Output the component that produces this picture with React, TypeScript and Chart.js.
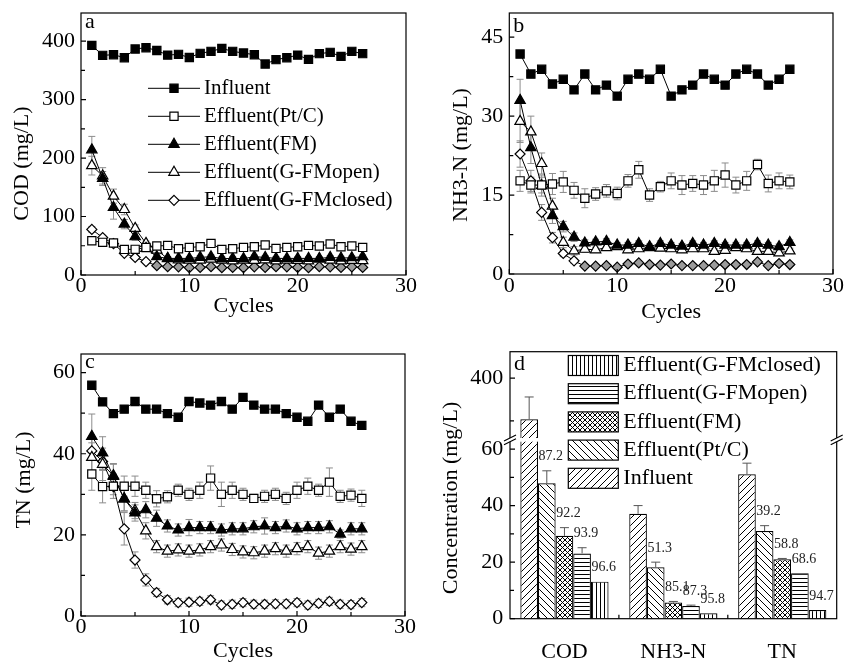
import React, { useEffect, useRef } from 'react';
import { Chart, registerables, LinearScale } from 'chart.js';

Chart.register(...registerables);
Chart.defaults.font.family = '"Liberation Serif", "Times New Roman", serif';
Chart.defaults.color = '#000';

// ---------------- DATA ----------------
const CYCLES = [1, 2, 3, 4, 5, 6, 7, 8, 9, 10, 11, 12, 13, 14, 15, 16, 17, 18, 19, 20, 21, 22, 23, 24, 25, 26];
const SERIES_NAMES = ['Influent', 'Effluent(Pt/C)', 'Effluent(FM)', 'Effluent(G-FMopen)', 'Effluent(G-FMclosed)'];

// (a) COD
const COD_INFLUENT = [392.6, 375.6, 376.7, 371.6, 386.4, 388.7, 384, 376, 377.3, 372, 379, 382.4, 387.5, 382.4, 379.5, 376.7, 360.7, 368.2, 371.6, 376, 368.7, 378.5, 380.7, 373.8, 382.4, 378.5];
const COD_PTC = [58.6, 55.8, 54.6, 43.8, 43.9, 47, 49.5, 50.6, 45, 47.2, 48.4, 54, 43.8, 45, 47.2, 48.4, 51.2, 45.5, 47.2, 48.4, 50.6, 49.5, 52.9, 48.4, 49.5, 47.2];
const COD_FM = [214, 165, 115.5, 87, 65.4, 45.5, 31.3, 28.4, 28.4, 28.4, 30.1, 31.3, 28, 28.4, 28, 31.3, 30.1, 28.4, 28.4, 28.4, 28.4, 28.4, 30.1, 29, 29.6, 31.3];
const COD_GFM_OPEN = [187, 169.5, 134.9, 112, 79.7, 54, 42.7, 28, 26, 25.6, 25.6, 27, 25.6, 24, 25.6, 25, 26, 24, 25.6, 25, 24, 27, 25.6, 24, 25, 24.5];
const COD_GFM_CLOSED = [78, 64, 53.5, 37, 30, 22.8, 16, 14.2, 14, 12.5, 13, 14.2, 12.5, 13, 12.5, 14, 13, 14.2, 14, 13, 12.5, 14.2, 14, 13, 14, 13];
const COD_ERR_PTC = [3, 3, 3, 3, 3, 3, 3, 2, 2, 2, 2, 3, 2, 2, 2, 2, 3, 2, 2, 2, 3, 2, 3, 2, 2, 2];
const COD_ERR_FM = [23, 12, 20, 8, 6, 4, 3, 3, 3, 3, 3, 3, 3, 3, 3, 3, 3, 3, 3, 3, 3, 3, 3, 3, 3, 3];
const COD_ERR_OPEN = [16, 14, 12, 9, 6, 4, 3, 3, 3, 3, 3, 3, 3, 3, 3, 3, 3, 3, 3, 3, 3, 3, 3, 3, 3, 3];
const COD_ERR_CLOSED = [5, 4, 4, 3, 3, 2, 2, 2, 2, 2, 2, 2, 2, 2, 2, 2, 2, 2, 2, 2, 2, 2, 2, 2, 2, 2];

// (b) NH3-N
const NH_INFLUENT = [41.8, 38, 38.9, 36.1, 37, 35, 38, 35, 35.9, 33.8, 37, 38, 37, 38.9, 33.8, 35, 35.9, 38, 37, 35.9, 38, 38.9, 38, 35.9, 37, 38.9];
const NH_PTC = [17.7, 16.9, 16.9, 17.1, 17.5, 15.9, 14.4, 15.2, 15.8, 15.3, 17.7, 19.8, 15, 16.6, 17.7, 16.9, 17.2, 16.9, 17.7, 18.8, 16.9, 17.7, 20.8, 17.2, 17.7, 17.5];
const NH_FM = [33, 24, 16.8, 11.1, 9, 7, 5.9, 6.1, 6.2, 5.5, 5.5, 5.8, 5.2, 5.8, 5.5, 5.3, 5.8, 5.5, 5.8, 5.5, 5.5, 5.5, 5.8, 5.5, 5.2, 6];
const NH_GFM_OPEN = [29, 27, 21, 12.9, 6, 4.4, 4.7, 4.6, 5, 5.2, 4.6, 4.8, 5, 4.9, 4.8, 4.6, 4.8, 4.8, 4.3, 4.5, 5, 4.8, 4.3, 4.3, 4, 4.4];
const NH_GFM_CLOSED = [22.8, 17.7, 11.7, 6.9, 3.9, 2.5, 1.5, 1.5, 1.6, 1.3, 1.9, 2.1, 1.8, 1.7, 1.9, 1.6, 1.6, 1.6, 1.7, 1.8, 1.8, 1.8, 2.3, 1.6, 2, 1.8];
const NH_ERR_PTC = [2, 1.5, 1.5, 2, 2, 1.5, 1.8, 1.2, 1.2, 1.2, 1.2, 1.6, 1.2, 1, 1.5, 1.8, 1.5, 1.8, 2, 2.3, 1.5, 1.8, 1, 1.6, 1.5, 1.3];
const NH_ERR_FM = [4, 3, 2, 1.5, 1, 0.8, 0.6, 0.5, 0.5, 0.5, 0.5, 0.5, 0.5, 0.5, 0.5, 0.5, 0.5, 0.5, 0.5, 0.5, 0.5, 0.5, 0.5, 0.5, 0.5, 0.5];
const NH_ERR_OPEN = [4, 3, 2, 1.5, 1, 0.8, 0.6, 0.5, 0.5, 0.5, 0.5, 0.5, 0.5, 0.5, 0.5, 0.5, 0.5, 0.5, 0.5, 0.5, 0.5, 0.5, 0.5, 0.5, 0.5, 0.5];
const NH_ERR_CLOSED = [2.5, 2, 1.5, 1, 0.6, 0.5, 0.3, 0.3, 0.3, 0.3, 0.3, 0.3, 0.3, 0.3, 0.3, 0.3, 0.3, 0.3, 0.3, 0.3, 0.3, 0.3, 0.3, 0.3, 0.3, 0.3];

// (c) TN
const TN_INFLUENT = [56.9, 52.8, 49.9, 51, 52.9, 51, 51, 49.9, 49, 52.9, 52.5, 52, 52.9, 51, 53.9, 52, 51, 51, 49.9, 49, 48, 52, 49, 51, 48, 47];
const TN_PTC = [35, 31.9, 32, 32, 32, 31, 28.9, 29.4, 31, 30, 31, 34, 30, 31, 30, 29, 29.5, 30, 29, 31, 32, 31, 33, 29.5, 29.8, 29];
const TN_FM = [44.3, 40.2, 34.4, 28.9, 25.4, 26.2, 24.1, 22.2, 21.2, 21.8, 21.8, 21.8, 21.2, 21.5, 21.5, 22, 22.2, 21.8, 22.2, 21.5, 21.8, 21.8, 22, 20.2, 21.5, 21.5];
const TN_GFM_OPEN = [39.1, 37.4, 34.6, 28.9, 26, 21, 17.1, 16, 16.3, 16, 16.3, 17.1, 17.5, 16.4, 15.8, 15.6, 16, 16.6, 16, 16.6, 17.1, 15.5, 16, 17.1, 16.5, 17.1];
const TN_GFM_CLOSED = [40.7, 38.1, 31.9, 21.5, 13.8, 8.9, 5.8, 4, 3.3, 3.4, 3.6, 4, 2.7, 2.9, 3.3, 2.9, 2.9, 3, 3, 3.3, 2.7, 3.1, 3.6, 2.9, 2.8, 3.3];
const TN_ERR_PTC = [4, 4, 3, 2.5, 2.5, 2, 2, 1.5, 1.5, 1.5, 2, 3, 3, 2, 1.5, 1, 1.5, 1.5, 1.5, 2, 2, 1.5, 3.5, 1.5, 1.5, 2];
const TN_ERR_FM = [5.5, 4, 3, 3, 2, 2, 2, 1.5, 1.5, 2, 1.5, 1.5, 1.5, 1.5, 1.5, 1.5, 2, 1.5, 1.5, 1.5, 1.5, 1.5, 1.5, 1, 1.5, 1.5];
const TN_ERR_OPEN = [5, 4, 3, 3, 2, 2, 1.5, 1.5, 1.5, 1.5, 1.5, 1.5, 1.5, 1.5, 1.5, 1.5, 1.5, 1.5, 1.5, 1.5, 1.5, 1.5, 1.5, 1.5, 1.5, 1.5];
const TN_ERR_CLOSED = [2, 2, 2, 4, 2, 1.5, 1, 1, 1, 1, 1, 1, 1, 1, 1, 1, 1, 1, 1, 1, 1, 1, 1, 1, 1, 1];

// (d) averages
const BAR_CATEGORIES = ['COD', 'NH3-N', 'TN'];
const BAR_INFLUENT = [352, 37.1, 51.1];
const BAR_PTC = [47.9, 18.2, 31];
const BAR_FM = [29.3, 5.7, 21];
const BAR_GFM_OPEN = [23.1, 4.5, 16.1];
const BAR_GFM_CLOSED = [13.1, 1.9, 3.1];
const BAR_ERR_INFLUENT = [26, 2.9, 3.9];
const BAR_ERR_PTC = [4.4, 1.8, 1.9];
const BAR_ERR_FM = [2.9, 0.4, 0.3];
const BAR_ERR_OPEN = [2, 0.3, 0];
const BAR_ERR_CLOSED = [0, 0, 0];
const REMOVAL_PTC = ['87.2', '51.3', '39.2'];
const REMOVAL_FM = ['92.2', '85.1', '58.8'];
const REMOVAL_OPEN = ['93.9', '87.3', '68.6'];
const REMOVAL_CLOSED = ['96.6', '95.8', '94.7'];

// tick labels
const X_TICKS = [0, 10, 20, 30];
const X_MINOR = [5, 15, 25];
const COD_TICKS = [0, 100, 200, 300, 400];
const COD_MINOR = [50, 150, 250, 350];
const NH_TICKS = [0, 15, 30, 45];
const NH_MINOR = [7.5, 22.5, 37.5];
const TN_TICKS = [0, 20, 40, 60];
const TN_MINOR = [10, 30, 50];
const CONC_TICKS = [0, 20, 40, 60, 400];
const CONC_MINOR = [10, 30, 50, 350];

// broken axis of panel d
const BREAK_AXIS = { lowMax: 62.6, highMin: 330, highMax: 431, split: 0.663, gap: 3.7 };

class BrokenLinearScale extends LinearScale {
  static id = 'brokenLinear';
  static defaults = LinearScale.defaults;
  getPixelForValue(value: number) {
    const b = BREAK_AXIS;
    const bottom = this.bottom, top = this.top;
    const H = bottom - top;
    const lowTop = bottom - H * b.split;
    const highBottom = lowTop - b.gap;
    if (value <= b.lowMax) return bottom - (value / b.lowMax) * (bottom - lowTop);
    if (value >= b.highMin) return highBottom - ((value - b.highMin) / (b.highMax - b.highMin)) * (highBottom - top);
    return lowTop - b.gap / 2;
  }
  getValueForPixel(pixel: number) {
    const b = BREAK_AXIS;
    const bottom = this.bottom, top = this.top;
    const H = bottom - top;
    const lowTop = bottom - H * b.split;
    const highBottom = lowTop - b.gap;
    if (pixel >= lowTop) return ((bottom - pixel) / (bottom - lowTop)) * b.lowMax;
    return b.highMin + ((highBottom - pixel) / (highBottom - top)) * (b.highMax - b.highMin);
  }
}
Chart.register(BrokenLinearScale as any);

const MARKERS = [
  { style: 'rect', fill: '#000', radius: 5.8 },
  { style: 'rect', fill: '#fff', radius: 5.8 },
  { style: 'triangle', fill: '#000', radius: 6 },
  { style: 'triangle', fill: '#fff', radius: 6 },
  { style: 'rectRot', fill: '#fff', radius: 5 },
];

const FONT = '"Liberation Serif", "Times New Roman", serif';

function drawMarker(ctx: CanvasRenderingContext2D, style: string, x: number, y: number, r: number, fill: string) {
  ctx.beginPath();
  if (style === 'rect') {
    const s = r * Math.SQRT1_2;
    ctx.rect(x - s, y - s, 2 * s, 2 * s);
  } else if (style === 'triangle') {
    ctx.moveTo(x, y - r);
    ctx.lineTo(x + r * 0.866, y + r / 2);
    ctx.lineTo(x - r * 0.866, y + r / 2);
    ctx.closePath();
  } else {
    ctx.moveTo(x, y - r);
    ctx.lineTo(x + r, y);
    ctx.lineTo(x, y + r);
    ctx.lineTo(x - r, y);
    ctx.closePath();
  }
  ctx.fillStyle = fill;
  ctx.fill();
  ctx.lineWidth = 1.2;
  ctx.strokeStyle = '#000';
  ctx.stroke();
}

function makePattern(kind: string): CanvasPattern | string {
  const s = kind === 'h' || kind === 'v' ? 4 : kind === 'cross' ? 5 : 7;
  const c = document.createElement('canvas');
  c.width = s;
  c.height = s;
  const g = c.getContext('2d');
  if (!g) return '#fff';
  g.fillStyle = '#fff';
  g.fillRect(0, 0, s, s);
  g.strokeStyle = '#000';
  g.lineWidth = 1;
  g.beginPath();
  const up = () => {
    g.moveTo(0, s); g.lineTo(s, 0);
    g.moveTo(-2, 2); g.lineTo(2, -2);
    g.moveTo(s - 2, s + 2); g.lineTo(s + 2, s - 2);
  };
  const down = () => {
    g.moveTo(0, 0); g.lineTo(s, s);
    g.moveTo(-2, s - 2); g.lineTo(2, s + 2);
    g.moveTo(s - 2, -2); g.lineTo(s + 2, 2);
  };
  if (kind === 'up') up();
  if (kind === 'down') down();
  if (kind === 'cross') { up(); down(); }
  if (kind === 'h') { g.moveTo(0, 0.5); g.lineTo(s, 0.5); }
  if (kind === 'v') { g.moveTo(0.5, 0); g.lineTo(0.5, s); }
  g.stroke();
  return g.createPattern(c, 'repeat') || '#fff';
}

// ---------------- PLUGINS ----------------
const errorBarsPlugin = {
  id: 'errorBars',
  beforeDatasetsDraw(chart: any, _a: any, o: any) {
    if (o.after) return;
    drawErrors(chart, false, o);
  },
  afterDatasetsDraw(chart: any, _a: any, o: any) {
    if (!o.after) return;
    drawErrors(chart, true, o);
  },
};

function drawErrors(chart: any, upOnly: boolean, o: any) {
  const ctx = chart.ctx;
  const ys = chart.scales.y;
  ctx.save();
  ctx.strokeStyle = o.color || '#8c8c8c';
  ctx.lineWidth = 1;
  chart.data.datasets.forEach((ds: any, di: number) => {
    if (!ds.errors) return;
    const meta = chart.getDatasetMeta(di);
    meta.data.forEach((el: any, i: number) => {
      const e = ds.errors[i];
      if (!e) return;
      const raw = ds.data[i];
      const v = typeof raw === 'number' ? raw : raw.y;
      const yTop = ys.getPixelForValue(v + e);
      const yBot = upOnly ? ys.getPixelForValue(v) : ys.getPixelForValue(v - e);
      const cw = o.cap || 3.5;
      ctx.beginPath();
      ctx.moveTo(el.x, yBot);
      ctx.lineTo(el.x, yTop);
      ctx.moveTo(el.x - cw, yTop);
      ctx.lineTo(el.x + cw, yTop);
      if (!upOnly) {
        ctx.moveTo(el.x - cw, yBot);
        ctx.lineTo(el.x + cw, yBot);
      }
      ctx.stroke();
    });
  });
  ctx.restore();
}

const removalPlugin = {
  id: 'removal',
  afterDatasetsDraw(chart: any) {
    const ctx = chart.ctx;
    const ys = chart.scales.y;
    ctx.save();
    ctx.fillStyle = '#222';
    ctx.font = '14px ' + FONT;
    ctx.textAlign = 'center';
    ctx.textBaseline = 'middle';
    chart.data.datasets.forEach((ds: any, di: number) => {
      if (!ds.removal) return;
      const meta = chart.getDatasetMeta(di);
      meta.data.forEach((el: any, i: number) => {
        const v = ds.data[i] + (ds.errors ? ds.errors[i] : 0);
        ctx.fillText(ds.removal[i], el.x + 4, ys.getPixelForValue(v) - 14);
      });
    });
    ctx.restore();
  },
};

const decorPlugin = {
  id: 'decor',
  afterDraw(chart: any, _a: any, o: any) {
    const ctx = chart.ctx;
    const a = chart.chartArea;
    const ys = chart.scales.y;
    const xs = chart.scales.x;
    ctx.save();
    ctx.strokeStyle = '#000';
    ctx.lineWidth = 1.2;
    ctx.strokeRect(a.left, a.top, a.right - a.left, a.bottom - a.top);
    ctx.beginPath();
    (o.yMajor || []).forEach((v: number) => { const p = ys.getPixelForValue(v); ctx.moveTo(a.left, p); ctx.lineTo(a.left + 5, p); });
    (o.yMinor || []).forEach((v: number) => { const p = ys.getPixelForValue(v); ctx.moveTo(a.left, p); ctx.lineTo(a.left + 4, p); });
    (o.xMajor || []).forEach((v: number) => { const p = xs.getPixelForValue(v); ctx.moveTo(p, a.bottom); ctx.lineTo(p, a.bottom - 5); });
    (o.xMinor || []).forEach((v: number) => { const p = xs.getPixelForValue(v); ctx.moveTo(p, a.bottom); ctx.lineTo(p, a.bottom - 4); });
    if (o.xBoundaries) {
      const n = chart.data.labels.length;
      for (let i = 0; i < n - 1; i++) {
        const p = (xs.getPixelForValue(i) + xs.getPixelForValue(i + 1)) / 2;
        ctx.moveTo(p, a.bottom); ctx.lineTo(p, a.bottom - 4);
      }
    }
    ctx.stroke();

    // broken axis
    if (o.brk) {
      const lowTop = ys.getPixelForValue(BREAK_AXIS.lowMax);
      const highBottom = ys.getPixelForValue(BREAK_AXIS.highMin);
      ctx.fillStyle = '#fff';
      ctx.fillRect(a.left - 2, highBottom, a.right - a.left + 4, lowTop - highBottom);
      ctx.lineWidth = 1.2;
      ctx.strokeStyle = '#000';
      ctx.beginPath();
      [a.left, a.right].forEach((x: number) => {
        [lowTop, highBottom].forEach((y: number) => {
          ctx.moveTo(x - 6, y + 3);
          ctx.lineTo(x + 6, y - 3);
        });
      });
      ctx.stroke();
    }

    // panel letter
    ctx.fillStyle = '#000';
    ctx.font = '22px ' + FONT;
    ctx.textAlign = 'left';
    ctx.textBaseline = 'alphabetic';
    ctx.fillText(o.letter, a.left + 4, a.top + o.letterDy);

    // y title
    ctx.save();
    ctx.translate(o.yTitleX, o.yTitleY);
    ctx.rotate(-Math.PI / 2);
    ctx.textAlign = 'center';
    ctx.textBaseline = 'middle';
    ctx.fillText(o.yTitle, 0, 0);
    ctx.restore();

    // line legend
    if (o.legend) {
      const L = o.legend;
      ctx.font = L.fontSize + 'px ' + FONT;
      ctx.textBaseline = 'middle';
      ctx.textAlign = 'left';
      chart.data.datasets.forEach((ds: any, i: number) => {
        const y = L.y0 + i * L.dy;
        ctx.beginPath();
        ctx.strokeStyle = '#000';
        ctx.lineWidth = 1;
        ctx.moveTo(L.x0, y);
        ctx.lineTo(L.x1, y);
        ctx.stroke();
        const m = MARKERS[i];
        drawMarker(ctx, m.style, (L.x0 + L.x1) / 2, y, m.radius, m.fill);
        ctx.fillStyle = '#000';
        ctx.fillText(ds.label, L.tx, y);
      });
    }

    // bar legend
    if (o.barLegend) {
      const L = o.barLegend;
      ctx.font = L.fontSize + 'px ' + FONT;
      ctx.textBaseline = 'middle';
      ctx.textAlign = 'left';
      L.order.forEach((di: number, row: number) => {
        const ds = chart.data.datasets[di];
        const y = L.y0 + row * L.dy;
        ctx.fillStyle = ds.backgroundColor;
        ctx.fillRect(L.x0, y - L.h / 2, L.x1 - L.x0, L.h);
        ctx.strokeStyle = '#000';
        ctx.lineWidth = 1.2;
        ctx.strokeRect(L.x0, y - L.h / 2, L.x1 - L.x0, L.h);
        ctx.fillStyle = '#000';
        ctx.fillText(ds.label, L.tx, y);
      });
    }
    ctx.restore();
  },
};

// ---------------- CONFIG BUILDERS ----------------
function makeLineConfig(p: any) {
  const datasets = p.series.map((arr: number[], si: number) => ({
    label: SERIES_NAMES[si],
    data: CYCLES.map((c, i) => ({ x: c, y: arr[i] })),
    errors: p.errors[si],
    borderColor: '#000',
    borderWidth: 1,
    pointStyle: MARKERS[si].style,
    pointRadius: MARKERS[si].radius,
    pointBackgroundColor:
      si === 4 && p.grayFrom != null
        ? CYCLES.map((_c, i) => (i >= p.grayFrom ? '#9b9b9b' : '#fff'))
        : MARKERS[si].fill,
    pointBorderColor: '#000',
    pointBorderWidth: 1.2,
    fill: false,
    tension: 0,
  }));
  const lay = p.lay;
  return {
    type: 'line',
    data: { datasets },
    options: {
      responsive: false,
      animation: false,
      events: [],
      layout: { padding: { top: lay.top, right: lay.right, left: 0, bottom: 0 }, autoPadding: false },
      plugins: {
        legend: { display: false },
        tooltip: { enabled: false },
        errorBars: { color: '#8c8c8c', cap: 3.5 },
        decor: {
          yMajor: p.yTicks, yMinor: p.yMinor, xMajor: X_TICKS, xMinor: X_MINOR,
          letter: p.letter, letterDy: p.letterDy,
          yTitle: p.yTitle, yTitleX: p.yTitleX, yTitleY: p.yTitleY,
          legend: p.legend,
        },
      },
      scales: {
        x: {
          type: 'linear', min: 0, max: 30,
          grid: { display: false, drawTicks: false }, border: { display: false },
          afterBuildTicks: (s: any) => { s.ticks = X_TICKS.map((v) => ({ value: v })); },
          afterFit: (s: any) => { s.height = lay.xHeight; s.paddingLeft = 0; s.paddingRight = 0; },
          ticks: { padding: lay.xTickPad, font: { size: 22, lineHeight: 1 }, color: '#000', maxRotation: 0, autoSkip: false },
          title: { display: true, text: 'Cycles', font: { size: 22, lineHeight: 1 }, color: '#000', padding: { top: 0, bottom: lay.xTitlePad } },
        },
        y: {
          type: 'linear', min: 0, max: p.yMax,
          grid: { display: false, drawTicks: false }, border: { display: false },
          afterBuildTicks: (s: any) => { s.ticks = p.yTicks.map((v: number) => ({ value: v })); },
          afterFit: (s: any) => { s.width = lay.yWidth; s.paddingTop = 0; s.paddingBottom = 0; },
          ticks: { padding: 6, font: { size: 22, lineHeight: 1 }, color: '#000', autoSkip: false },
        },
      },
    },
    plugins: [errorBarsPlugin, decorPlugin],
  };
}

function makeBarConfig() {
  const pats = [makePattern('up'), makePattern('down'), makePattern('cross'), makePattern('h'), makePattern('v')];
  const values = [BAR_INFLUENT, BAR_PTC, BAR_FM, BAR_GFM_OPEN, BAR_GFM_CLOSED];
  const errs = [BAR_ERR_INFLUENT, BAR_ERR_PTC, BAR_ERR_FM, BAR_ERR_OPEN, BAR_ERR_CLOSED];
  const removals = [null, REMOVAL_PTC, REMOVAL_FM, REMOVAL_OPEN, REMOVAL_CLOSED];
  const datasets = values.map((arr, i) => ({
    label: SERIES_NAMES[i],
    data: arr,
    errors: errs[i],
    removal: removals[i],
    backgroundColor: pats[i],
    borderColor: '#000',
    borderWidth: 1.2,
    categoryPercentage: 0.81,
    barPercentage: 1.0,
  }));
  return {
    type: 'bar',
    data: { labels: BAR_CATEGORIES, datasets },
    options: {
      responsive: false,
      animation: false,
      events: [],
      layout: { padding: { top: 21.7, right: 7.3, left: 0, bottom: 0 }, autoPadding: false },
      plugins: {
        legend: { display: false },
        tooltip: { enabled: false },
        errorBars: { after: true, color: '#555', cap: 4.5 },
        decor: {
          yMajor: CONC_TICKS, yMinor: CONC_MINOR, xBoundaries: true, brk: true,
          letter: 'd', letterDy: 18,
          yTitle: 'Concentration (mg/L)', yTitleX: 31.7, yTitleY: 168,
          barLegend: { x0: 148.3, x1: 198.3, tx: 203.3, y0: 35.5, dy: 28.2, h: 20, fontSize: 22, order: [4, 3, 2, 1, 0] },
        },
      },
      scales: {
        x: {
          type: 'category', offset: true,
          grid: { display: false, offset: true, drawTicks: false }, border: { display: false },
          afterFit: (s: any) => { s.height = 43.3; s.paddingLeft = 0; s.paddingRight = 0; },
          ticks: { padding: 22.3, font: { size: 22, lineHeight: 1 }, color: '#000', maxRotation: 0, autoSkip: false },
        },
        y: {
          type: 'brokenLinear', min: 0, max: BREAK_AXIS.highMax,
          grid: { display: false, drawTicks: false }, border: { display: false },
          afterBuildTicks: (s: any) => { s.ticks = CONC_TICKS.map((v) => ({ value: v })); },
          afterFit: (s: any) => { s.width = 90; s.paddingTop = 0; s.paddingBottom = 0; },
          ticks: { padding: 6.7, font: { size: 22, lineHeight: 1 }, color: '#000', autoSkip: false },
        },
      },
    },
    plugins: [errorBarsPlugin, removalPlugin, decorPlugin],
  };
}

// ---------------- COMPONENT ----------------
export default function App() {
  const refA = useRef<HTMLCanvasElement>(null);
  const refB = useRef<HTMLCanvasElement>(null);
  const refC = useRef<HTMLCanvasElement>(null);
  const refD = useRef<HTMLCanvasElement>(null);

  useEffect(() => {
    const cfgA = makeLineConfig({
      series: [COD_INFLUENT, COD_PTC, COD_FM, COD_GFM_OPEN, COD_GFM_CLOSED],
      errors: [null, COD_ERR_PTC, COD_ERR_FM, COD_ERR_OPEN, COD_ERR_CLOSED],
      grayFrom: 6,
      yMax: 448, yTicks: COD_TICKS, yMinor: COD_MINOR,
      letter: 'a', letterDy: 15,
      yTitle: 'COD (mg/L)', yTitleX: 22.5, yTitleY: 163.5,
      lay: { top: 13, right: 14, yWidth: 81, xHeight: 55, xTickPad: 0, xTitlePad: 13 },
      legend: { x0: 148, x1: 200, tx: 204, y0: 88.3, dy: 28, fontSize: 21 },
    });
    const cfgB = makeLineConfig({
      series: [NH_INFLUENT, NH_PTC, NH_FM, NH_GFM_OPEN, NH_GFM_CLOSED],
      errors: [null, NH_ERR_PTC, NH_ERR_FM, NH_ERR_OPEN, NH_ERR_CLOSED],
      grayFrom: 6,
      yMax: 49.6, yTicks: NH_TICKS, yMinor: NH_MINOR,
      letter: 'b', letterDy: 19,
      yTitle: 'NH3-N (mg/L)', yTitleX: 41.7, yTitleY: 155,
      lay: { top: 13, right: 11, yWidth: 89.3, xHeight: 56, xTickPad: 1, xTitlePad: 6.5 },
      legend: null,
    });
    const cfgC = makeLineConfig({
      series: [TN_INFLUENT, TN_PTC, TN_FM, TN_GFM_OPEN, TN_GFM_CLOSED],
      errors: [null, TN_ERR_PTC, TN_ERR_FM, TN_ERR_OPEN, TN_ERR_CLOSED],
      grayFrom: null,
      yMax: 64.6, yTicks: TN_TICKS, yMinor: TN_MINOR,
      letter: 'c', letterDy: 14,
      yTitle: 'TN (mg/L)', yTitleX: 24, yTitleY: 150,
      lay: { top: 24, right: 15, yWidth: 81, xHeight: 46, xTickPad: 0, xTitlePad: 0 },
      legend: null,
    });
    const charts = [
      new Chart(refA.current as any, cfgA as any),
      new Chart(refB.current as any, cfgB as any),
      new Chart(refC.current as any, cfgC as any),
      new Chart(refD.current as any, makeBarConfig() as any),
    ];
    return () => charts.forEach((c) => c.destroy());
  }, []);

  const box = (left: number, top: number, w: number, h: number): React.CSSProperties => ({
    position: 'absolute', left, top, width: w, height: h,
  });

  return (
    <div style={{ position: 'fixed', left: 0, top: 0, width: 844, height: 662, background: '#fff', overflow: 'hidden' }}>
      <canvas ref={refA} width={420} height={330} style={box(0, 0, 420, 330)} />
      <canvas ref={refB} width={424} height={330} style={box(420, 0, 424, 330)} />
      <canvas ref={refC} width={420} height={332} style={box(0, 330, 420, 332)} />
      <canvas ref={refD} width={424} height={332} style={box(420, 330, 424, 332)} />
    </div>
  );
}
